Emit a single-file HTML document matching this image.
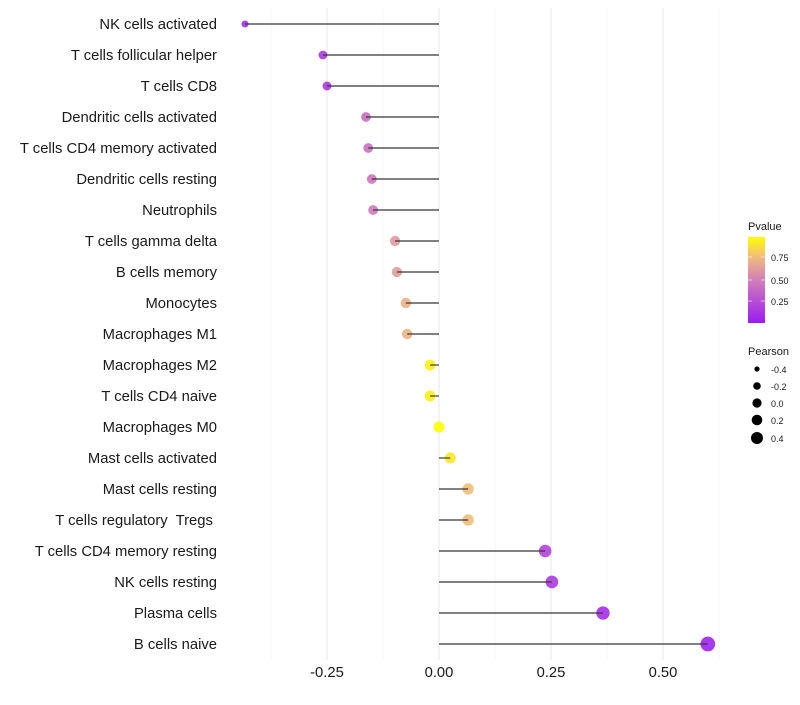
<!DOCTYPE html>
<html><head><meta charset="utf-8"><style>
body{margin:0;background:#fff;}
svg text{font-family:"Liberation Sans",Arial,sans-serif;white-space:pre;}
</style></head><body>
<svg id="chart" width="800" height="700" xmlns="http://www.w3.org/2000/svg">
<defs>
<linearGradient id="pg" x1="0" y1="1" x2="0" y2="0">
<stop offset="0" stop-color="#9B1CF2"/>
<stop offset="0.5" stop-color="#D27EB8"/>
<stop offset="0.78" stop-color="#F2BE78"/>
<stop offset="1" stop-color="#FFFF00"/>
</linearGradient>
</defs>
<g id="grid"></g>
<g id="marks"></g>
<g id="ylabels"></g>
<g id="xlabels"></g>
<g>
<text x="748" y="230" font-size="11" fill="#1a1a1a">Pvalue</text>
<rect x="748" y="237" width="17" height="86" fill="url(#pg)"/>
<line x1="748" y1="257" x2="752" y2="257" stroke="#fff" opacity="0.6"/><line x1="761" y1="257" x2="765" y2="257" stroke="#fff" opacity="0.6"/>
<line x1="748" y1="280" x2="752" y2="280" stroke="#fff" opacity="0.6"/><line x1="761" y1="280" x2="765" y2="280" stroke="#fff" opacity="0.6"/>
<line x1="748" y1="301" x2="752" y2="301" stroke="#fff" opacity="0.6"/><line x1="761" y1="301" x2="765" y2="301" stroke="#fff" opacity="0.6"/>
<text x="771" y="261" font-size="9" fill="#1a1a1a">0.75</text>
<text x="771" y="284" font-size="9" fill="#1a1a1a">0.50</text>
<text x="771" y="305" font-size="9" fill="#1a1a1a">0.25</text>
</g>
<g>
<text x="748" y="355" font-size="11" fill="#1a1a1a">Pearson</text>
<circle cx="757" cy="369" r="2.6" fill="#000"/><text x="771" y="373" font-size="9" fill="#1a1a1a">-0.4</text>
<circle cx="757" cy="386" r="3.8" fill="#000"/><text x="771" y="390" font-size="9" fill="#1a1a1a">-0.2</text>
<circle cx="757" cy="403" r="4.6" fill="#000"/><text x="771" y="407" font-size="9" fill="#1a1a1a">0.0</text>
<circle cx="757" cy="420" r="5.3" fill="#000"/><text x="771" y="424" font-size="9" fill="#1a1a1a">0.2</text>
<circle cx="757" cy="438" r="6" fill="#000"/><text x="771" y="442" font-size="9" fill="#1a1a1a">0.4</text>
</g>
</svg>
<script>
const categories=["NK cells activated","T cells follicular helper","T cells CD8","Dendritic cells activated","T cells CD4 memory activated","Dendritic cells resting","Neutrophils","T cells gamma delta","B cells memory","Monocytes","Macrophages M1","Macrophages M2","T cells CD4 naive","Macrophages M0","Mast cells activated","Mast cells resting","T cells regulatory  Tregs ","T cells CD4 memory resting","NK cells resting","Plasma cells","B cells naive"];
const pearson=[-0.433,-0.259,-0.25,-0.163,-0.158,-0.15,-0.147,-0.098,-0.094,-0.074,-0.071,-0.02,-0.02,0.0,0.025,0.065,0.065,0.237,0.252,0.366,0.6];
const pvalue=[0.08,0.14,0.15,0.42,0.43,0.46,0.47,0.62,0.63,0.72,0.73,0.95,0.95,1.0,0.92,0.77,0.77,0.2,0.16,0.08,0.03];
const xTicks=[-0.25,0,0.25,0.5];
const xTickLabels=["-0.25","0.00","0.25","0.50"];
const minorTicks=[-0.375,-0.125,0.125,0.375,0.625];
const NS="http://www.w3.org/2000/svg";
const x=v=>439+v*448;
const y=i=>24+i*31;
const r=v=>Math.sqrt(Math.max(4,30+40*v));
function mk(t,a,p){const e=document.createElementNS(NS,t);for(const k in a)e.setAttribute(k,a[k]);p.appendChild(e);return e;}
const stops=[[0,[155,28,242]],[0.5,[210,126,184]],[0.78,[242,190,120]],[1,[255,255,0]]];
function col(p){for(let i=1;i<stops.length;i++){if(p<=stops[i][0]){const a=stops[i-1],b=stops[i];const t=(p-a[0])/(b[0]-a[0]);const c=a[1].map((v,k)=>Math.round(v+(b[1][k]-v)*t));return `rgb(${c})`;}}return "rgb(255,255,0)";}
const grid=document.getElementById('grid');
minorTicks.forEach(v=>{const l=mk('line',{x1:x(v),x2:x(v),y1:8,y2:660,stroke:'#f4f4f4','stroke-width':1},grid);

});
xTicks.forEach(v=>{const l=mk('line',{x1:x(v),x2:x(v),y1:8,y2:660,stroke:'#ebebeb','stroke-width':1.2},grid);

});
const marks=document.getElementById('marks');
const yl=document.getElementById('ylabels');
categories.forEach((c,i)=>{
const p=mk('circle',{cx:x(pearson[i]),cy:y(i),r:r(pearson[i]),fill:col(pvalue[i]),'fill-opacity':0.9},marks);


const s=mk('line',{x1:x(0),x2:x(pearson[i]),y1:y(i),y2:y(i),stroke:'#3a3a3a','stroke-width':1.4,'stroke-opacity':0.85},marks);


const t=mk('text',{x:217,y:y(i)+5,'text-anchor':'end','font-size':14.8,fill:'#1a1a1a'},yl);
t.textContent=c;


});
const xl=document.getElementById('xlabels');
xTicks.forEach((v,i)=>{const t=mk('text',{x:x(v),y:677,'text-anchor':'middle','font-size':14.8,fill:'#1a1a1a'},xl);
t.textContent=xTickLabels[i];

});
</script>
</body></html>
